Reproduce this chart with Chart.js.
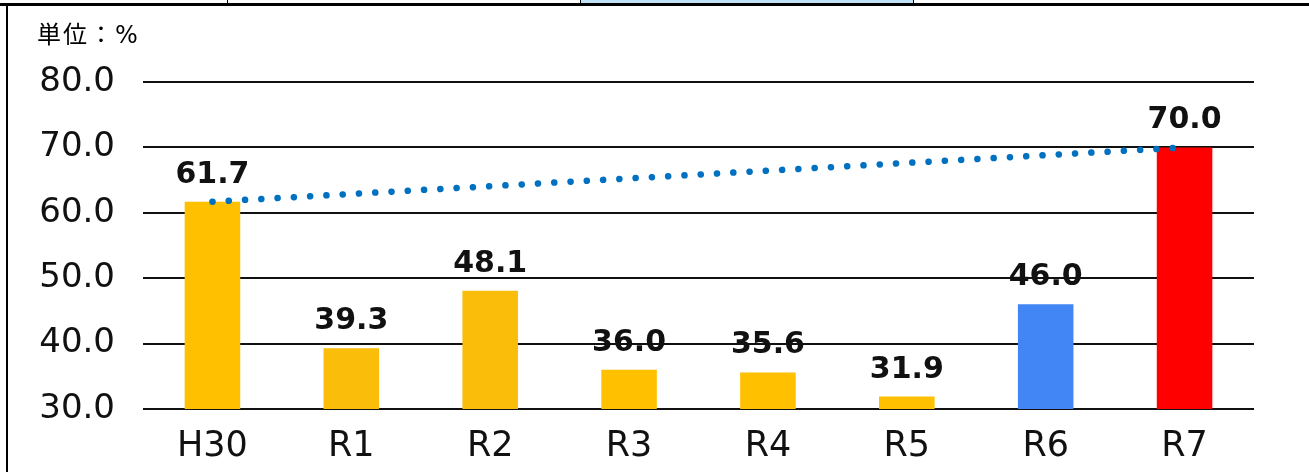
<!DOCTYPE html>
<html>
<head>
<meta charset="utf-8">
<script src="https://cdn.jsdelivr.net/npm/chart.js@4.4.1/dist/chart.umd.min.js"></script>
<style>
  html, body { margin: 0; padding: 0; background: #fff; }
  #wrap { position: relative; width: 1309px; height: 472px; overflow: hidden; }
  #chart { position: absolute; left: 0; top: 0; }
  .ln { position: absolute; background: #000; }
  #unit { position: absolute; left: 37px; top: 15px; font: 24px "Noto Sans CJK JP", sans-serif; color: #000; white-space: nowrap; letter-spacing: 2px; }
  #unit span { font-family: "DejaVu Sans", sans-serif; }
</style>
</head>
<body>
<div id="wrap">
  <canvas id="chart" width="1309" height="472"></canvas>
  <!-- table borders from the source document -->
  <div style="position:absolute;left:581px;top:0;width:332px;height:3px;background:#bfe2f6"></div>
  <div class="ln" style="left:0;top:3px;width:1309px;height:3px"></div>
  <div class="ln" style="left:227px;top:0;width:1px;height:4px"></div>
  <div class="ln" style="left:580px;top:0;width:1px;height:4px"></div>
  <div class="ln" style="left:913px;top:0;width:1px;height:4px"></div>
  <div class="ln" style="left:6px;top:3px;width:2px;height:469px"></div>
  <div id="unit">単位：<span>%</span></div>
</div>
<script>
// years and rates (%)
const categories = ['H30', 'R1', 'R2', 'R3', 'R4', 'R5', 'R6', 'R7'];
const rates = [61.7, 39.3, 48.1, 36.0, 35.6, 31.9, 46.0, 70.0];
const barColors = ['#FFC000', '#F9BD0A', '#F9BD0A', '#FFC000', '#FFC000', '#FFC000', '#4285F4', '#FF0000'];
// trend line: start (H30) to target (R7)
const trend = [61.7, null, null, null, null, null, null, 70.0];
const yTicks = [30, 40, 50, 60, 70, 80];

const CHART_LEFT = 143, CHART_TOP = 82, CHART_BOTTOM = 409, CHART_RIGHT = 1254;

// draw the value on top of each bar
const valueLabels = {
  id: 'valueLabels',
  afterDatasetsDraw(chart) {
    const meta = chart.getDatasetMeta(1);
    const ctx = chart.ctx;
    ctx.save();
    ctx.font = 'bold 30px "DejaVu Sans", sans-serif';
    ctx.fillStyle = '#111';
    ctx.textAlign = 'center';
    ctx.textBaseline = 'alphabetic';
    meta.data.forEach((bar, i) => {
      ctx.fillText(rates[i].toFixed(1), bar.x, bar.y - 19);
    });
    ctx.restore();
  }
};

new Chart(document.getElementById('chart'), {
  type: 'bar',
  data: {
    labels: categories,
    datasets: [
      {
        type: 'line',
        data: trend,
        spanGaps: true,
        borderColor: '#0070C0',
        borderWidth: 6.5,
        borderDash: [0.1, 16.2],
        borderCapStyle: 'round',
        pointRadius: 0,
        order: 0
      },
      {
        data: rates,
        backgroundColor: barColors,
        barPercentage: 0.4,
        categoryPercentage: 1.0,
        order: 1
      }
    ]
  },
  options: {
    responsive: false,
    animation: false,
    layout: { padding: { top: CHART_TOP, right: 1309 - CHART_RIGHT, left: 0, bottom: 0 } },
    plugins: { legend: { display: false }, tooltip: { enabled: false } },
    scales: {
      x: {
        grid: { display: false },
        border: { display: false },
        ticks: {
          color: '#111',
          font: { family: '"DejaVu Sans", sans-serif', size: 35 },
          padding: 9
        },
        afterFit(scale) { scale.height = 472 - CHART_BOTTOM; }
      },
      y: {
        min: 30,
        max: 80,
        afterBuildTicks(scale) { scale.ticks = yTicks.map(v => ({ value: v })); },
        grid: { color: '#111', lineWidth: 2, drawTicks: false },
        border: { display: false },
        ticks: {
          color: '#111',
          font: { family: '"DejaVu Sans", sans-serif', size: 34 },
          padding: 28,
          callback: v => v.toFixed(1)
        },
        afterFit(scale) { scale.width = CHART_LEFT; }
      }
    }
  },
  plugins: [valueLabels]
});
</script>
</body>
</html>
